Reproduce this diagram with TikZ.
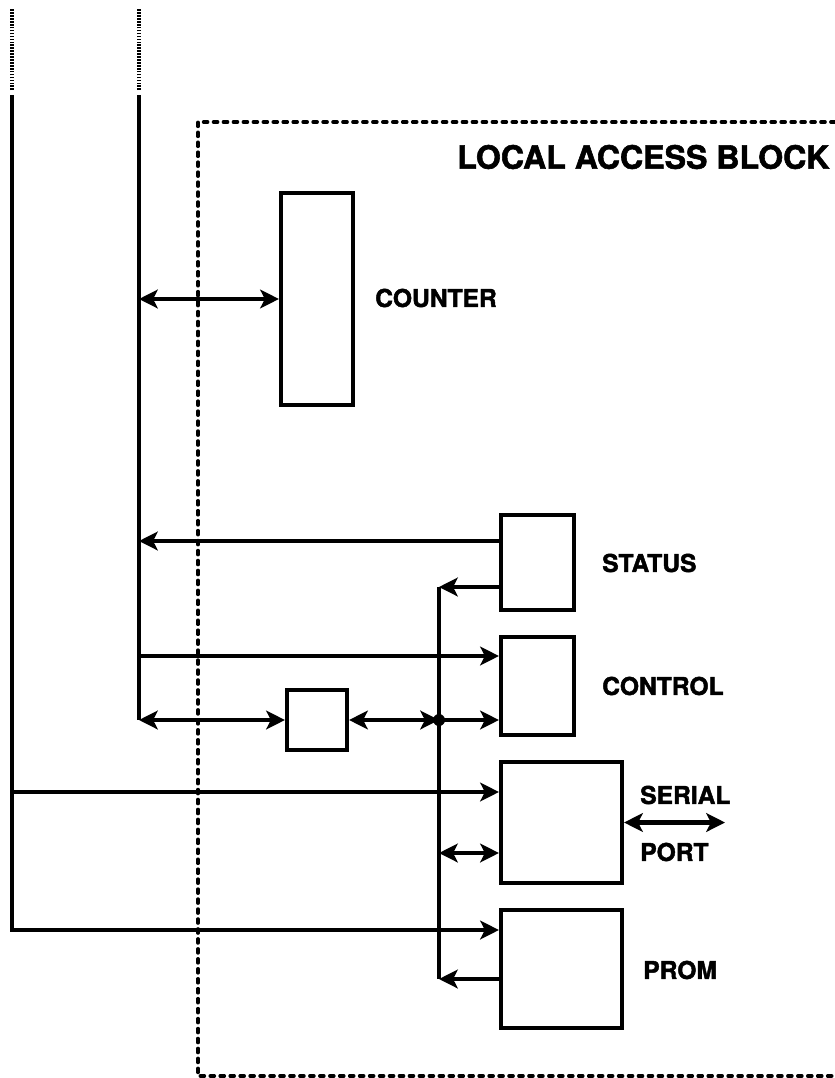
\documentclass[tikz,border=0pt]{standalone}
\usepackage{fontspec}
\setmainfont{TeX Gyre Heros}[BoldFeatures={FakeBold=1.8}]
\usetikzlibrary{arrows.meta}

\begin{document}
\begin{tikzpicture}[
  x=0.3mm, y=-0.3mm,
  >={Stealth[length=16pt,width=16pt,inset=4pt]},
  wire/.style={line width=4pt},
  busdots/.style={line width=3.4pt, dash pattern=on 1.4pt off 1.1pt},
  blk/.style={draw, line width=3.5pt, inner sep=0pt},
  lab/.style={font=\bfseries\fontsize{21}{25}\selectfont, anchor=west, inner sep=0pt},
  frame/.style={line width=3pt, line cap=round, dash pattern=on 3.5pt off 5pt}
]
\useasboundingbox (0,0) rectangle (835,1078);
\draw[frame] (835,122) -- (198,122) -- (198,1076) -- (835,1076);
\node[lab, font=\bfseries\fontsize{27.4}{32}\selectfont] (title) at (457,157) {LOCAL ACCESS BLOCK};

\node[blk, minimum width=21.6mm, minimum height=63.6mm] (ctr) at (317,299) {};
\node[blk, minimum width=21.9mm, minimum height=28.5mm] (stat) at (537.5,562.5) {};
\node[blk, minimum width=21.9mm, minimum height=29.4mm] (ctl) at (537.5,686) {};
\node[blk, minimum width=18mm, minimum height=18mm] (sbx) at (317,720) {};
\node[blk, minimum width=36.3mm, minimum height=36.3mm] (ser) at (561.5,822.5) {};
\node[blk, minimum width=36.3mm, minimum height=35.4mm] (prom) at (561.5,969) {};

\node[lab] (lctr) at (375,298) {COUNTER};
\node[lab] (lstat) at (602,563) {STATUS};
\node[lab] (lctl) at (602,686) {CONTROL};
\node[lab] (lser) at (640,795) {SERIAL};
\node[lab] (lport) at (640,852) {PORT};
\node[lab] (lprom) at (643,970) {PROM};

\coordinate (a0) at (12,95);
\coordinate (a1) at (12,930);
\coordinate (b0) at (139,95);
\coordinate (b1) at (139,720);
\coordinate (i0) at (439,587);
\coordinate (i1) at (439,979);
\coordinate (jn) at (439,720);
\coordinate (sp) at (725,822.5);

\foreach \c in {a0,b0}
  \draw[busdots] (\c) ++(0,-5) -- ++(0,-82);

\draw[wire,->] (a0) -- (a1) -- (a1 -| prom.west);
\draw[wire,->] (a0 |- 0,792) -- (ser.west |- 0,792);
\draw[wire] (b0) -- (b1);
\draw[wire,<->] (b1) -- (sbx.west);
\draw[wire,<->] (ctr.west -| b0) -- (ctr.west);
\draw[wire,->] (stat.west |- 0,541) -- (b0 |- 0,541);
\draw[wire,->] (b0 |- 0,656) -- (ctl.west |- 0,656);
\draw[wire,->] (stat.west |- i0) -- (i0);
\draw[wire] (i0) -- (i1);
\draw[wire,->] (prom.west |- i1) -- (i1);
\draw[wire,<->] (sbx.east) -- (jn);
\fill (jn) circle (6);
\draw[wire,->] (jn) -- (jn -| ctl.west);
\draw[wire,<->] (i0 |- 0,853) -- (ser.west |- 0,853);
\draw[wire,<->] (ser.east) -- (sp);
\end{tikzpicture}
\end{document}
